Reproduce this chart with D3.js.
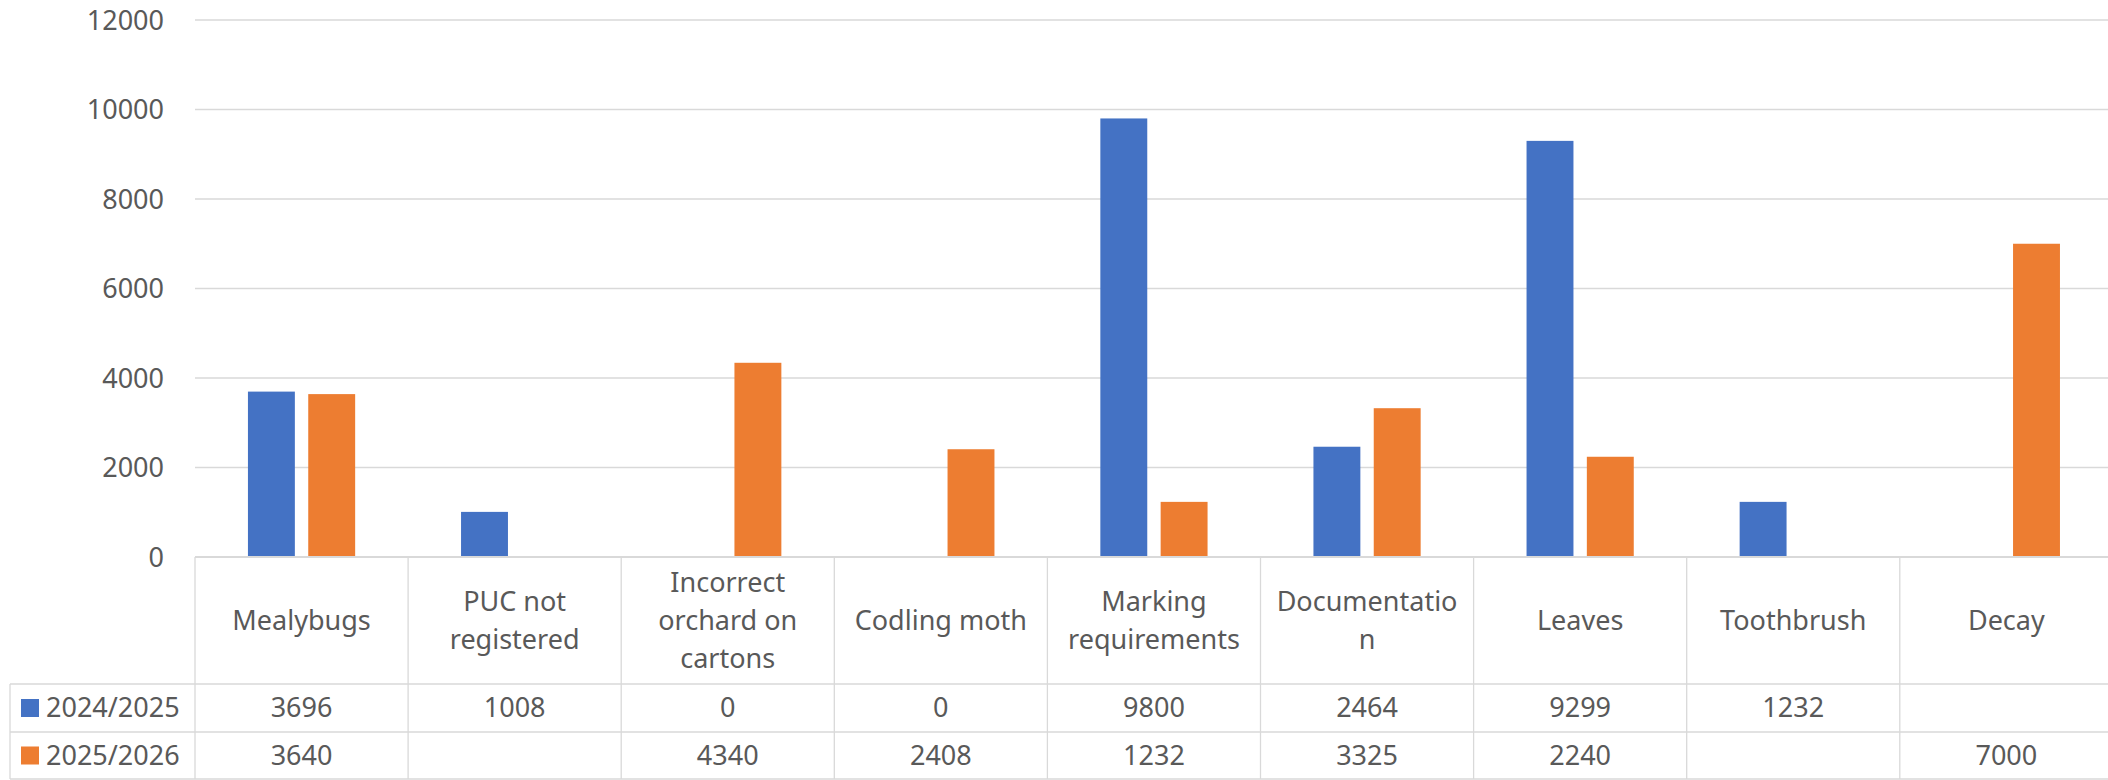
<!DOCTYPE html>
<html><head><meta charset="utf-8">
<script src="https://cdn.jsdelivr.net/npm/d3@7"></script>
<style>
html,body{margin:0;padding:0;background:#fff;}
svg{display:block;font-family:"Noto Sans","Open Sans",sans-serif;}
</style></head>
<body><svg id="chart" width="2108" height="780"></svg>
<script>
const categories = ["Mealybugs","PUC not registered","Incorrect orchard on cartons","Codling moth","Marking requirements","Documentation","Leaves","Toothbrush","Decay"];
const categoryLines = [["Mealybugs"],["PUC not","registered"],["Incorrect","orchard on","cartons"],["Codling moth"],["Marking","requirements"],["Documentatio","n"],["Leaves"],["Toothbrush"],["Decay"]];
const seriesNames = ["2024/2025","2025/2026"];
const values2024 = [3696,1008,0,0,9800,2464,9299,1232,null];
const values2025 = [3640,null,4340,2408,1232,3325,2240,null,7000];
const yTicks = [0,2000,4000,6000,8000,10000,12000];
const colors = ["#4472C4","#ED7D31"];
const seriesValues = [values2024, values2025];

const svg = d3.select("#chart");
const W = 2108;
const plotLeft = 195, plotRight = 195 + 213.1*9;
const yTop = 20, yBase = 557;
const tableLeft = 10, row1 = 684, row2 = 732, row3 = 779;
const textColor = "#595959", gridColor = "#D9D9D9";
const fs = 27;

const y = d3.scaleLinear().domain([0,12000]).range([yBase, yTop]);
const x0 = d3.scaleBand().domain(categories).range([plotLeft, plotRight]).paddingInner(0).paddingOuter(0);
const x1 = d3.scaleBand().domain(seriesNames).range([0, x0.bandwidth()]).paddingInner(0.222).paddingOuter(0.878);

// gridlines
svg.append("g").selectAll("line").data(yTicks.filter(d=>d>0)).join("line")
  .attr("x1", plotLeft).attr("x2", W).attr("y1", d=>y(d)).attr("y2", d=>y(d))
  .attr("stroke", gridColor).attr("stroke-width", 1.3);

// y axis labels
const yAxis = d3.axisLeft(y).tickValues(yTicks).tickSize(0).tickPadding(0).tickFormat(d3.format("d"));
const ya = svg.append("g").attr("transform", `translate(164,0)`).call(yAxis);
ya.select(".domain").remove();
ya.selectAll("text").attr("font-size", fs).attr("fill", textColor).attr("font-family", "Noto Sans").attr("dy","0.35em");

// bars
seriesNames.forEach((s, si) => {
  const data = categories.map((c, i) => ({c, v: seriesValues[si][i]})).filter(d => d.v != null && d.v > 0);
  svg.append("g").selectAll("rect").data(data).join("rect")
    .attr("x", d => x0(d.c) + x1(s))
    .attr("width", x1.bandwidth())
    .attr("y", d => y(d.v))
    .attr("height", d => y(0) - y(d.v))
    .attr("fill", colors[si]);
});

// table lines
const tg = svg.append("g").attr("stroke", gridColor).attr("stroke-width", 1.3);
tg.append("line").attr("x1", plotLeft).attr("x2", W).attr("y1", yBase).attr("y2", yBase).attr("stroke-width", 2);
[row1, row2, row3].forEach(yy => tg.append("line").attr("x1", tableLeft).attr("x2", W).attr("y1", yy).attr("y2", yy));
tg.append("line").attr("x1", tableLeft).attr("x2", tableLeft).attr("y1", row1).attr("y2", row3);
categories.forEach(c => {
  tg.append("line").attr("x1", x0(c)).attr("x2", x0(c)).attr("y1", yBase).attr("y2", row3);
});

// category labels
const lineH = 38;
categories.forEach((c, i) => {
  const lines = categoryLines[i];
  const cx = x0(c) + x0.bandwidth()/2;
  const cy = (yBase + row1)/2;
  const t = svg.append("text").attr("text-anchor","middle").attr("font-size", fs).attr("fill", textColor);
  lines.forEach((ln, j) => {
    t.append("tspan").attr("x", cx).attr("y", cy + (j - (lines.length-1)/2)*lineH).attr("dy","0.35em").text(ln);
  });
});

// value rows
seriesNames.forEach((s, si) => {
  const yc = si === 0 ? (row1+row2)/2 : (row2+row3)/2;
  svg.append("rect").attr("x", 21).attr("y", yc - 9).attr("width", 18).attr("height", 18).attr("fill", colors[si]);
  svg.append("text").attr("x", 46).attr("y", yc).attr("dy","0.35em").attr("font-size", fs).attr("fill", textColor).text(s);
  categories.forEach((c, i) => {
    const v = seriesValues[si][i];
    if (v == null) return;
    svg.append("text").attr("x", x0(c) + x0.bandwidth()/2).attr("y", yc).attr("dy","0.35em")
      .attr("text-anchor","middle").attr("font-size", fs).attr("fill", textColor).text(v);
  });
});
</script></body></html>
